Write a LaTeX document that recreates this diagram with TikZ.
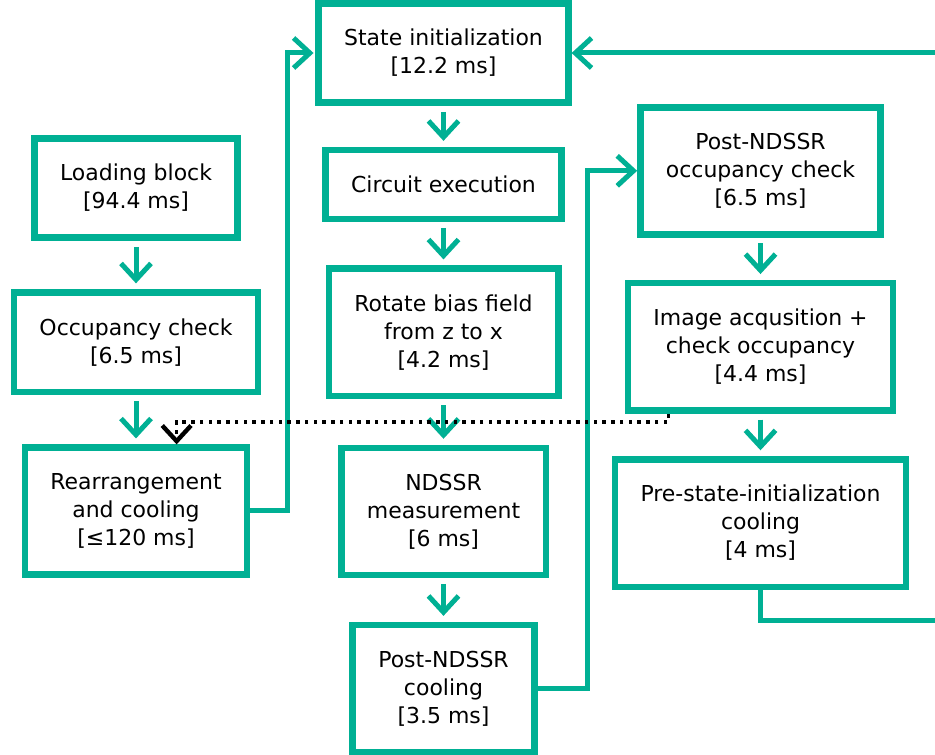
\documentclass[tikz,border=0pt]{standalone}
\usepackage{fontspec}
\setmainfont{DejaVu Sans}
\usepackage{tikz}
\usetikzlibrary{arrows.meta,positioning}
\definecolor{flowgreen}{RGB}{0,176,148}

\begin{document}
\begin{tikzpicture}[
      font=\fontsize{10}{12.75}\selectfont,
      box/.style={draw=flowgreen, line width=1.04mm, align=center, outer sep=0pt,
                  inner xsep=4.1mm, inner ysep=4.15mm},
      arr/.style={-{Straight Barb[length=2.6mm, width=4.8mm]}, draw=flowgreen,
                  line width=0.8mm},
      vflow/.style={arr, shorten <=1.45mm, shorten >=1.45mm},
      waitline/.style={-{Straight Barb[length=2.5mm, width=4.6mm, line width=0.7mm]},
                       line width=0.55mm, dash pattern=on 0.56mm off 0.84mm}
    ]
    \useasboundingbox (0,0) rectangle (149.6mm,-120.64mm);
    % middle column
    \node[box] (init) at (70.96mm,-8.48mm) {State initialization\\{[}12.2 ms{]}};
    \node[box, below=7.55mm of init] (circ)  {Circuit execution};
    \node[box, below=7.95mm of circ] (rot)   {Rotate bias field\\from z to x\\{[}4.2 ms{]}};
    \node[box, below=8.3mm of rot]   (meas)  {NDSSR\\measurement\\{[}6 ms{]}};
    \node[box, below=8.0mm of meas]  (pcool) {Post-NDSSR\\cooling\\{[}3.5 ms{]}};
    % left column
    \node[box] (load) at (21.76mm,-30.08mm) {Loading block\\{[}94.4 ms{]}};
    \node[box, below=8.75mm of load] (occ)   {Occupancy check\\{[}6.5 ms{]}};
    \node[box, below=8.9mm of occ]   (rearr) {Rearrangement\\and cooling\\{[}≤120 ms{]}};
    % right column
    \node[box] (pocc) at (121.68mm,-27.33mm) {Post-NDSSR\\occupancy check\\{[}6.5 ms{]}};
    \node[box, below=7.8mm of pocc] (img)    {Image acqusition +\\check occupancy\\{[}4.4 ms{]}};
    \node[box, below=7.8mm of img]  (precool) {Pre-state-initialization\\cooling\\{[}4 ms{]}};

    \draw[vflow] (init.south) -- (circ.north);
    \draw[vflow] (circ.south) -- (rot.north);
    \draw[vflow] (rot.south)  -- (meas.north);
    \draw[vflow] (meas.south) -- (pcool.north);
    \draw[vflow] (load.south) -- (occ.north);
    \draw[vflow] (occ.south)  -- (rearr.north);
    \draw[vflow] (pocc.south) -- (img.north);
    \draw[vflow] (img.south)  -- (precool.north);

    \draw[arr, shorten >=0.8mm] (rearr.east) -- ++(6.52mm,0) |- (init.west);
    \draw[arr, shorten >=0.5mm] (pcool.east) -- ++(8.48mm,0) |- (pocc.west);
    \draw[arr, shorten >=0.5mm] (precool.south) -- ++(0,-5.44mm) -- ++(30mm,0) |- (init.east);
    % dotted link back to rearrangement
    \draw[waitline, shorten >=0.5mm] ([xshift=6.5mm, yshift=-0.6mm]img.south west)
      -- ++(0,-1.2mm) -| ([xshift=6.5mm]rearr.north);
  \end{tikzpicture}
\end{document}
